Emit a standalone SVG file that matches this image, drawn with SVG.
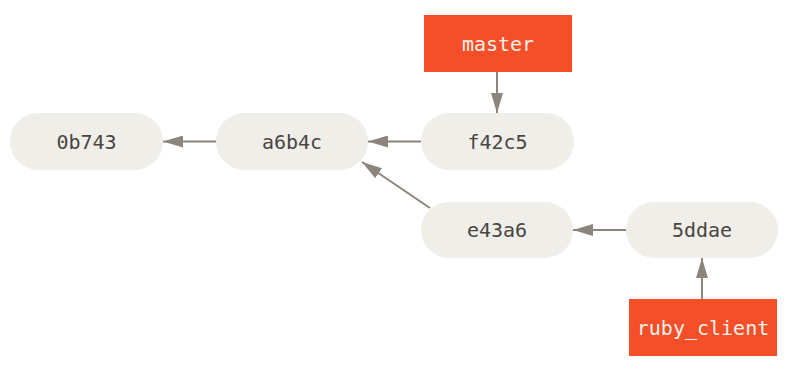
<svg xmlns="http://www.w3.org/2000/svg" width="800" height="379" viewBox="0 0 800 379">
<style>
.commit{fill:#efeee8}
.branch{fill:#f44f29}
.ct{font-family:"DejaVu Sans Mono",monospace;font-size:20px;fill:#4a4541;text-anchor:middle;dominant-baseline:central}
.bt{font-family:"DejaVu Sans Mono",monospace;font-size:20px;fill:#f4f1ea;text-anchor:middle;dominant-baseline:central}
.edge{stroke:#8b857c;stroke-width:2;fill:none;marker-end:url(#ah)}
</style>
<defs>
<marker id="ah" markerUnits="userSpaceOnUse" markerWidth="20" markerHeight="12" refX="20" refY="6" orient="auto">
<path d="M0,0 L20,6 L0,12 Z" fill="#8b857c"/>
</marker>
</defs>
<rect width="800" height="379" fill="#fff"/>
<g id="connectors">
<line class="edge" x1="216" y1="141.5" x2="163" y2="141.5"/>
<line class="edge" x1="421" y1="141.5" x2="368" y2="141.5"/>
<line class="edge" x1="497" y1="72" x2="497" y2="113"/>
<line class="edge" x1="430" y1="208" x2="362" y2="162"/>
<line class="edge" x1="626" y1="230" x2="573" y2="230"/>
<line class="edge" x1="702" y1="299" x2="702" y2="258"/>
</g>
<g id="c0b743"><rect class="commit" x="10" y="113" width="153" height="57" rx="28.5"/><text class="ct" x="86.5" y="141.5">0b743</text></g>
<g id="ca6b4c"><rect class="commit" x="216" y="113" width="152" height="57" rx="28.5"/><text class="ct" x="292" y="141.5">a6b4c</text></g>
<g id="cf42c5"><rect class="commit" x="421" y="113" width="153" height="57" rx="28.5"/><text class="ct" x="497.5" y="141.5">f42c5</text></g>
<g id="ce43a6"><rect class="commit" x="421" y="202" width="152" height="56" rx="28"/><text class="ct" x="497" y="230">e43a6</text></g>
<g id="c5ddae"><rect class="commit" x="626" y="202" width="152" height="56" rx="28"/><text class="ct" x="702" y="230">5ddae</text></g>
<g id="master"><rect class="branch" x="424" y="15" width="148" height="57"/><text class="bt" x="498" y="43.5">master</text></g>
<g id="ruby_client"><rect class="branch" x="629" y="299" width="148" height="57"/><text class="bt" x="703" y="327.5">ruby_client</text></g>
</svg>
